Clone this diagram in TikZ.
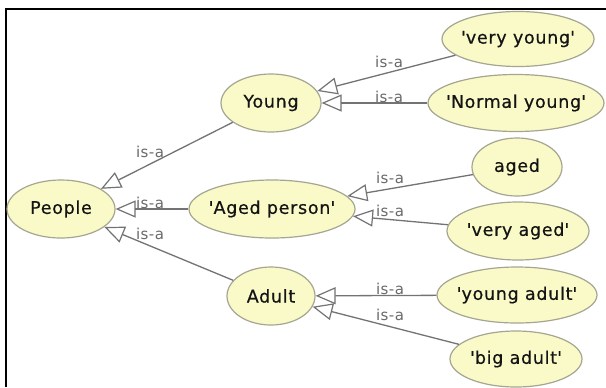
\documentclass[tikz,border=0pt]{standalone}
\usepackage{fontspec}
\setmainfont{DejaVu Sans}
\newfontfamily\nodefont{DejaVu Sans}[LetterSpace=4, FakeBold=0.5]
\newfontfamily\labfont{DejaVu Sans}[LetterSpace=3]
\usetikzlibrary{shapes.geometric,arrows.meta}
\definecolor{nodefill}{RGB}{250,250,200}
\definecolor{nodeline}{RGB}{165,165,145}
\definecolor{edgecol}{RGB}{115,115,115}
\definecolor{labcol}{RGB}{105,105,105}
\definecolor{txtcol}{RGB}{20,20,20}
\newcommand{\q}{\textquotesingle}
\newcommand{\tx}[1]{\makebox[0pt][c]{#1}}
\tikzset{
  cls/.style={ellipse, draw=nodeline, fill=nodefill, line width=1.2bp, inner sep=0pt,
    text=txtcol, font=\nodefont\fontsize{17.5bp}{20bp}\selectfont},
  isa/.style={draw=edgecol, line width=1.3bp, -{Triangle[open, length=20bp, width=17bp, line width=1.2bp]}},
  lab/.style={text=labcol, inner sep=0pt, font=\labfont\fontsize{15bp}{17bp}\selectfont}
}
\begin{document}
\begin{tikzpicture}[x=1bp, y=-1bp]
\useasboundingbox (0,0) rectangle (606,387);
\fill[white] (0,0) rectangle (606,387);
\draw[line width=2bp] (5.5,387) -- (5.5,9.3) -- (606,9.3);

\node[cls, minimum width=108bp, minimum height=58bp] (people) at (61,209) {\tx{People}};
\node[cls, minimum width=100bp, minimum height=58bp] (young) at (271,103) {\tx{Young}};
\node[cls, minimum width=166bp, minimum height=58bp] (agedp) at (272,209) {\tx{\q Aged person\q}};
\node[cls, minimum width=88bp, minimum height=58bp] (adult) at (271,296) {\tx{Adult}};
\node[cls, minimum width=152bp, minimum height=55bp] (vyoung) at (518,39) {\tx{\q very young\q}};
\node[cls, minimum width=176bp, minimum height=57bp] (nyoung) at (516,103) {\tx{\q Normal young\q}};
\node[cls, minimum width=90bp, minimum height=58bp] (aged) at (517,167) {\tx{aged}};
\node[cls, minimum width=142bp, minimum height=58bp] (vaged) at (518,231) {\tx{\q very aged\q}};
\node[cls, minimum width=160bp, minimum height=56bp] (yadult) at (517,295) {\tx{\q young adult\q}};
\node[cls, minimum width=132bp, minimum height=56bp] (badult) at (516,359) {\tx{\q big adult\q}};

\draw[isa] (young) -- (people);
\draw[isa] (agedp) -- (people);
\draw[isa] (adult) -- (people);
\draw[isa] (vyoung) -- (young);
\draw[isa] (nyoung) -- (young);
\draw[isa] (aged) -- (agedp);
\draw[isa] (vaged) -- (agedp);
\draw[isa] (yadult) -- (adult);
\draw[isa] (badult) -- (adult);

\node[lab] (l1) at (150,152) {is-a};
\node[lab] (l2) at (150,203) {is-a};
\node[lab] (l3) at (150,234) {is-a};
\node[lab] (l4) at (389,62) {is-a};
\node[lab] (l5) at (389,97) {is-a};
\node[lab] (l6) at (390,178) {is-a};
\node[lab] (l7) at (390,211) {is-a};
\node[lab] (l8) at (390,289) {is-a};
\node[lab] (l9) at (390,315) {is-a};
\end{tikzpicture}
\end{document}
